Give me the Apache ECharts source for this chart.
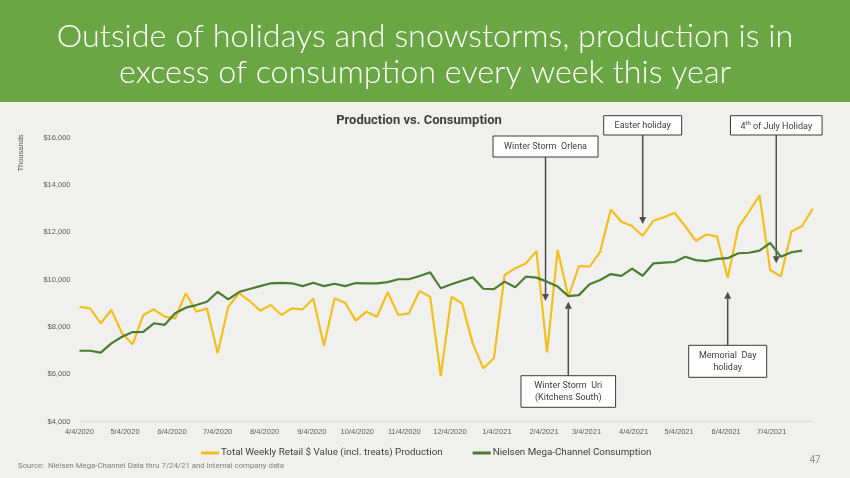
<!DOCTYPE html>
<html><head><meta charset="utf-8">
<script src="https://cdn.jsdelivr.net/npm/echarts@6/dist/echarts.min.js"></script>
<style>html,body{margin:0;padding:0;background:#f0f0ee}#c{width:850px;height:478px}</style>
</head><body><div id="c"></div><script>
// ---------- data ----------
const weeks = ['2020-04-04','2020-04-11','2020-04-18','2020-04-25','2020-05-02','2020-05-09','2020-05-16','2020-05-23','2020-05-30','2020-06-06',
'2020-06-13','2020-06-20','2020-06-27','2020-07-04','2020-07-11','2020-07-18','2020-07-25','2020-08-01','2020-08-08','2020-08-15',
'2020-08-22','2020-08-29','2020-09-05','2020-09-12','2020-09-19','2020-09-26','2020-10-03','2020-10-10','2020-10-17','2020-10-24',
'2020-10-31','2020-11-07','2020-11-14','2020-11-21','2020-11-28','2020-12-05','2020-12-12','2020-12-19','2020-12-26','2021-01-02',
'2021-01-09','2021-01-16','2021-01-23','2021-01-30','2021-02-06','2021-02-13','2021-02-20','2021-02-27','2021-03-06','2021-03-13',
'2021-03-20','2021-03-27','2021-04-03','2021-04-10','2021-04-17','2021-04-24','2021-05-01','2021-05-08','2021-05-15','2021-05-22',
'2021-05-29','2021-06-05','2021-06-12','2021-06-19','2021-06-26','2021-07-03','2021-07-10','2021-07-17','2021-07-24','2021-07-31'];
const production = [8850,8780,8150,8710,7730,7260,8500,8740,8430,8360,
9420,8640,8780,6880,8850,9420,9100,8680,8920,8500,
8780,8740,9200,7200,9200,9020,8260,8640,8430,9460,
8500,8570,9510,9270,5920,9270,8990,7300,6250,6670,
10190,10470,10680,11200,6920,11250,9270,10570,10540,11170,
12960,12440,12260,11840,12480,12630,12820,12250,11630,11900,
11810,10060,12200,12860,13560,10400,10130,12030,12260,12990];
const consumption = [6990,6990,6910,7300,7580,7780,7790,8150,8080,8570,
8810,8920,9060,9480,9160,9470,9600,9720,9840,9860,
9840,9720,9860,9720,9820,9720,9850,9840,9840,9890,
10010,10010,10150,10300,9630,9800,9950,10090,9610,9590,
9910,9670,10120,10080,9910,9700,9300,9340,9800,9980,
10230,10150,10460,10160,10680,10710,10740,10960,10820,10780,
10870,10900,11110,11130,11220,11550,10960,11150,11220];
const xLabelDates = ['2020-04-04','2020-05-04','2020-06-04','2020-07-04','2020-08-04','2020-09-04','2020-10-04','2020-11-04',
'2020-12-04','2021-01-04','2021-02-04','2021-03-04','2021-04-04','2021-05-04','2021-06-04','2021-07-04'];
const xMin = '2020-04-04', xMax = '2021-07-31';
const yMin = 4000, yMax = 16000, yStep = 2000;
const seriesNames = ['Total Weekly Retail $ Value (incl. treats) Production','Nielsen Mega-Channel Consumption'];
// annotation targets (date, value) and texts
const annoTexts = ['Winter Storm  Orlena','Easter holiday','4th of July Holiday','Memorial  Day\nholiday','Winter Storm  Uri\n(Kitchens South)'];
const annoDates = ['2021-02-05','2021-04-10','2021-07-07','2021-06-05','2021-02-20'];
const annoValues = [9090,12344,10684,9484,9062];
// ---------- layout/styles ----------
const annoLayout = [
  {top:136, w:105, h:21, dir:'down'},
  {top:115.7, w:78, h:19.3, dir:'down'},
  {top:115.7, w:91.6, h:19.3, dir:'down'},
  {top:345.3, w:78, h:32, dir:'up'},
  {top:375.7, w:94.6, h:31.6, dir:'up'}
];
const YELLOW = '#f3bf1c', GREEN = '#4b7d30', TXT = '#404040';
function ts(s){ const p = s.split('-').map(Number); return Date.UTC(p[0], p[1]-1, p[2]); }
function fmtDate(v){ const d = new Date(v); return (d.getUTCMonth()+1)+'/'+d.getUTCDate()+'/'+d.getUTCFullYear(); }

const chart = echarts.init(document.getElementById('c'));
const option = {
  backgroundColor: '#f0f0ee',
  animation: false,
  title: {
    text: 'Production vs. Consumption', left: 414, top: 109, textAlign: 'center',
    textStyle: {fontFamily: 'Roboto', fontSize: 13, fontWeight: 'bold', color: TXT}
  },
  legend: {
    left: 196, top: 443, itemWidth: 18, itemHeight: 3, itemGap: 30, icon: 'rect',
    textStyle: {fontFamily: 'Roboto', fontSize: 9.8, color: TXT, padding: [0,0,0,-3]},
    data: seriesNames
  },
  grid: {left: 79.5, right: 37.3, top: 137.5, bottom: 56.5, containLabel: false},
  xAxis: {
    type: 'value', min: ts(xMin), max: ts(xMax),
    splitLine: {show: false},
    axisLine: {show: true, lineStyle: {color: '#d9d9d9', width: 1}},
    axisTick: {show: false},
    axisLabel: {
      customValues: xLabelDates.map(ts), formatter: fmtDate, hideOverlap: false,
      showMinLabel: true, showMaxLabel: true,
      fontFamily: 'Liberation Sans', fontSize: 7.5, color: '#595959', margin: 6
    }
  },
  yAxis: {
    type: 'value', min: yMin, max: yMax, interval: yStep,
    splitLine: {show: false}, axisLine: {show: false}, axisTick: {show: false},
    axisLabel: {
      formatter: v => '$' + v.toLocaleString('en-US'),
      fontFamily: 'Liberation Sans', fontSize: 7.5, color: '#595959', margin: 9
    }
  },
  series: [
    {name: seriesNames[0], type: 'line', symbol: 'none', color: YELLOW,
     lineStyle: {width: 2.2, color: YELLOW}, data: weeks.map((d,i)=>[ts(d), production[i]])},
    {name: seriesNames[1], type: 'line', symbol: 'none', color: GREEN,
     lineStyle: {width: 2.2, color: GREEN}, data: consumption.map((v,i)=>[ts(weeks[i]), v])}
  ]
};
chart.setOption(option);

// graphics: header, notes, annotations
const g = [];
g.push({type:'rect', z:-1, shape:{x:0,y:0,width:850,height:102}, style:{fill:'#6aa744'}});
g.push({type:'text', style:{text:'Outside of holidays and snowstorms, production is in\nexcess of consumption every week this year',
  x:425, y:55, align:'center', verticalAlign:'middle', fontFamily:'Lato', fontWeight:300, fontSize:32.3, lineHeight:36, fill:'#ffffff'}});
g.push({type:'text', rotation: Math.PI/2, x:21, y:153, style:{text:'Thousands', align:'center', verticalAlign:'middle',
  fontFamily:'Liberation Sans', fontSize:7.5, fill:'#595959'}});
g.push({type:'text', style:{text:'Source:  Nielsen Mega-Channel Data thru 7/24/21 and internal company data', x:18, y:466,
  verticalAlign:'middle', fontFamily:'Roboto', fontSize:7.8, fill:'#7f7f7f'}});
g.push({type:'text', style:{text:'47', x:815, y:460, align:'center', verticalAlign:'middle', fontFamily:'Roboto', fontSize:10, fill:'#8c8c8c'}});

annoTexts.forEach((t,i)=>{
  const L = annoLayout[i];
  const tip = chart.convertToPixel({gridIndex:0}, [ts(annoDates[i]), annoValues[i]]);
  const cx = tip[0];
  const bx = cx - L.w/2;
  const tail = L.dir === 'down' ? L.top + L.h : L.top;
  const ah = 7, aw = 3.5;
  const lineEnd = L.dir === 'down' ? tip[1]-ah : tip[1]+ah;
  g.push({type:'line', shape:{x1:cx,y1:tail,x2:cx,y2:lineEnd}, style:{stroke:'#4d4d4d', lineWidth:1.5}});
  g.push({type:'polygon', shape:{points: L.dir==='down'
     ? [[cx-aw,tip[1]-ah],[cx+aw,tip[1]-ah],[cx,tip[1]]]
     : [[cx-aw,tip[1]+ah],[cx+aw,tip[1]+ah],[cx,tip[1]]]}, style:{fill:'#4d4d4d'}});
  g.push({type:'rect', shape:{x:bx,y:L.top,width:L.w,height:L.h}, style:{fill:'#ffffff', stroke:'#3a3a3a', lineWidth:1}});
  if (i === 2) {
    g.push({type:'text', style:{text:'{a|4}{s|th}{a| of July Holiday}', x:cx, y:L.top+L.h/2+1, align:'center', verticalAlign:'middle',
      rich:{a:{fontFamily:'Roboto', fontSize:9, fill:TXT}, s:{fontFamily:'Roboto', fontSize:6, fill:TXT, padding:[0,0,6,0]}}}});
  } else {
    g.push({type:'text', style:{text:t, x:cx, y:L.top+L.h/2, align:'center', verticalAlign:'middle',
      fontFamily:'Roboto', fontSize:9, lineHeight:12, fill:TXT}});
  }
});
chart.setOption({graphic: g});
</script></body></html>
